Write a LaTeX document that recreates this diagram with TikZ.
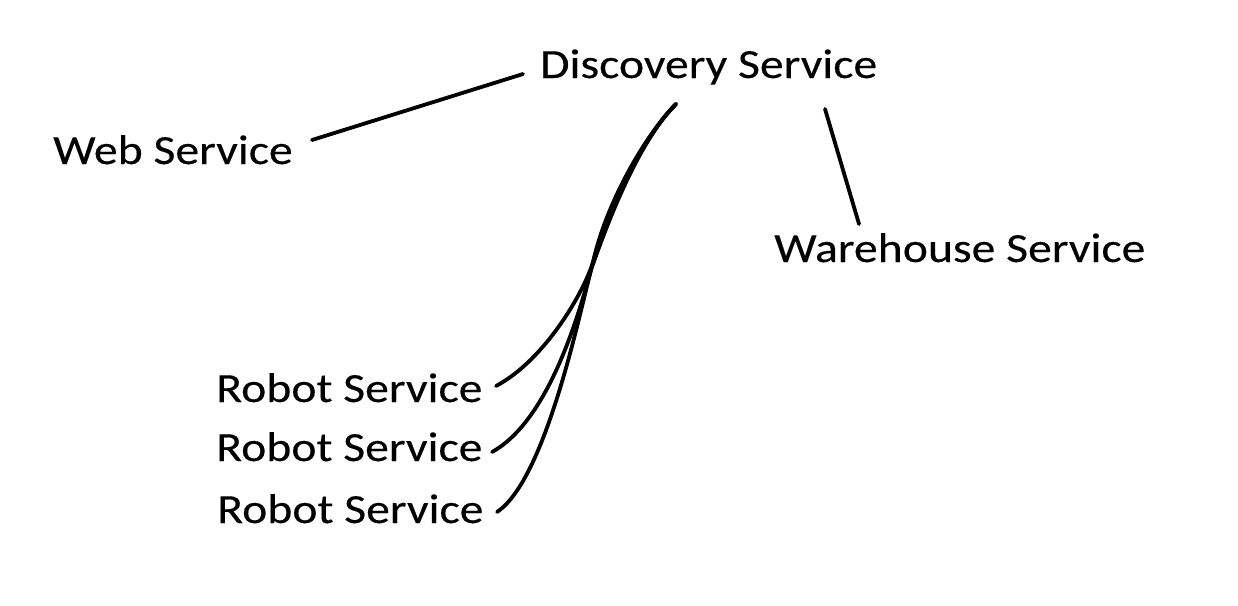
\documentclass[tikz,border=0pt]{standalone}
\usepackage{fontspec}
\setmainfont{Carlito}
\newfontfamily\lblfont[FakeBold=0.25]{Carlito}
\begin{document}
\begin{tikzpicture}[x=1pt,y=-1pt,
  lbl/.style={anchor=base west,inner sep=0pt,font=\lblfont\fontsize{41.5}{48}\selectfont},
  wire/.style={line width=3.8pt,line cap=round,line join=round,black}]
\useasboundingbox (0,0) rectangle (1238,605);
\node[lbl] (disc) at (540,78) {\scalebox{1.15}[1]{Discovery Service}};
\node[lbl] (web) at (53,164) {\scalebox{1.15}[1]{Web Service}};
\node[lbl] (ware) at (774,262) {\scalebox{1.15}[1]{Warehouse Service}};
\node[lbl] (rob1) at (216,402) {\scalebox{1.15}[1]{Robot Service}};
\node[lbl] (rob2) at (216,461) {\scalebox{1.15}[1]{Robot Service}};
\node[lbl] (rob3) at (217,523) {\scalebox{1.15}[1]{Robot Service}};
% connector end points beside the labels
\coordinate (webE) at (312,140);
\coordinate (discW) at (523,74);
\coordinate (discS) at (676,104);
\coordinate (splitA) at (593,262);
\coordinate (splitB) at (592,266);
\coordinate (splitC) at (591,270);
\coordinate (discSE) at (825,109);
\coordinate (wareN) at (859,224);
\coordinate (rob1E) at (496,386);
\coordinate (rob2E) at (492,452);
\coordinate (rob3E) at (497,512);
\draw[wire] (webE) -- (discW);
\draw[wire] (discSE) -- (wareN);
\draw[wire] (discS) .. controls (647,133) and (607,200) .. (splitA)
  .. controls (584,292) and (545,360) .. (rob1E);
\draw[wire] (discS) .. controls (644,136) and (609,205) .. (splitB)
  .. controls (580,310) and (550,420) .. (rob2E);
\draw[wire] (discS) .. controls (641,139) and (611,212) .. (splitC)
  .. controls (578,320) and (545,480) .. (rob3E);
\end{tikzpicture}
\end{document}
